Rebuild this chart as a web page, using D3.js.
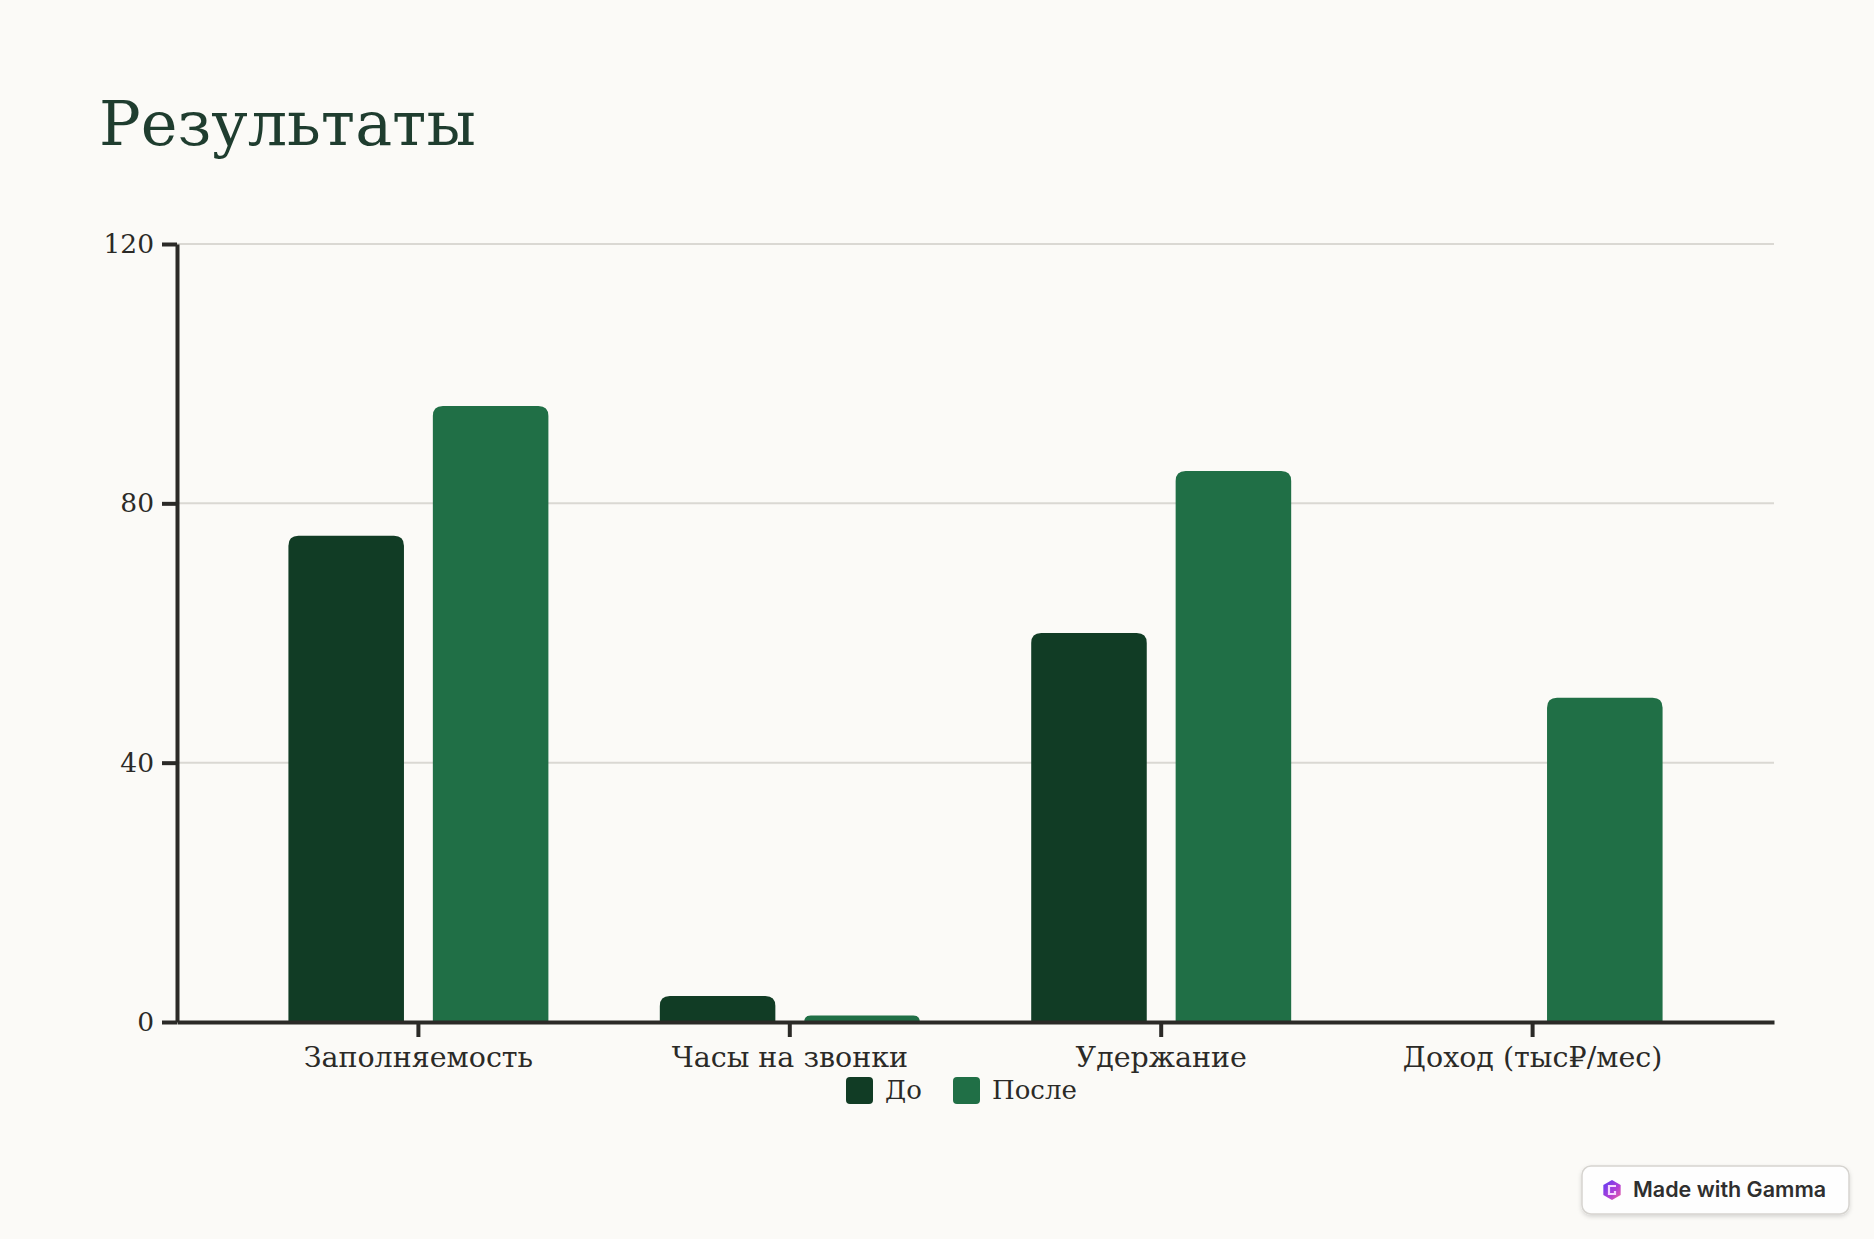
<!DOCTYPE html>
<html>
<head>
<meta charset="utf-8">
<script src="https://cdn.jsdelivr.net/npm/d3@7"></script>
<style>
  html, body { margin: 0; padding: 0; background: #fbfaf7; }
  svg { display: block; }
  .serif { font-family: "DejaVu Serif", "Liberation Serif", serif; }
  .badge { font-family: Inter, "Noto Sans", sans-serif; }
</style>
</head>
<body>
<script>
const width = 1874;
const height = 1239;

// chart data
const categories = ["Заполняемость", "Часы на звонки", "Удержание", "Доход (тыс₽/мес)"];
const seriesNames = ["До", "После"];
const beforeValues = [75, 4, 60, 0];
const afterValues = [95, 1, 85, 50];
const yTicks = [0, 40, 80, 120];

const colors = ["#113c25", "#206f46"];
const textColor = "#2b2a27";

const margin = { left: 177, right: 100, top: 244, bottom: 217 };
const plotBottom = height - margin.bottom;   // y of zero line

const svg = d3.select("body").append("svg")
    .attr("width", width)
    .attr("height", height);

svg.append("rect")
    .attr("width", width)
    .attr("height", height)
    .attr("fill", "#fbfaf7");

// title
svg.append("text")
    .attr("class", "serif")
    .attr("x", 99)
    .attr("y", 145)
    .attr("fill", "#1f3d2f")
    .style("font-size", "62px")
    .text("Результаты");

const x0 = d3.scaleBand()
    .domain(categories)
    .range([margin.left, width - margin.right])
    .paddingInner(0.3)
    .paddingOuter(0.3);

const x1 = d3.scaleBand()
    .domain(seriesNames)
    .range([0, x0.bandwidth()])
    .paddingInner(0.2);

const y = d3.scaleLinear()
    .domain([0, 120])
    .range([plotBottom, margin.top]);

// gridlines
svg.append("g")
    .selectAll("line")
    .data(yTicks.filter(d => d > 0))
    .join("line")
    .attr("x1", margin.left)
    .attr("x2", width - margin.right)
    .attr("y1", d => y(d))
    .attr("y2", d => y(d))
    .attr("stroke", "#dad8d3")
    .attr("stroke-width", 2);

// bars with rounded top corners
function topRounded(x, yTop, w, h, r) {
    r = Math.min(r, h, w / 2);
    return `M${x},${yTop + h}V${yTop + r}Q${x},${yTop} ${x + r},${yTop}` +
        `H${x + w - r}Q${x + w},${yTop} ${x + w},${yTop + r}V${yTop + h}Z`;
}

const rows = categories.map((c, i) => ({
    category: c,
    values: [
        { key: seriesNames[0], value: beforeValues[i] },
        { key: seriesNames[1], value: afterValues[i] }
    ]
}));

svg.append("g")
    .selectAll("g")
    .data(rows)
    .join("g")
    .attr("transform", d => `translate(${x0(d.category)},0)`)
    .selectAll("path")
    .data(d => d.values.filter(v => v.value > 0))
    .join("path")
    .attr("fill", d => colors[seriesNames.indexOf(d.key)])
    .attr("d", d => topRounded(x1(d.key), y(d.value), x1.bandwidth(), y(0) - y(d.value), 10));

// y axis
const yAxis = svg.append("g")
    .attr("transform", `translate(${margin.left},0)`)
    .call(d3.axisLeft(y).tickValues(yTicks).tickSize(15).tickSizeOuter(0).tickPadding(8));

// x axis
const xAxis = svg.append("g")
    .attr("transform", `translate(0,${plotBottom})`)
    .call(d3.axisBottom(x0).tickSize(15).tickSizeOuter(0).tickPadding(10));

[yAxis, xAxis].forEach(a => {
    a.select(".domain").attr("stroke", textColor).attr("stroke-width", 4);
    a.selectAll(".tick line").attr("stroke", textColor).attr("stroke-width", 4);
    a.selectAll(".tick text")
        .attr("class", "serif")
        .attr("fill", textColor);
});
yAxis.selectAll(".tick text").style("font-size", "26.5px");
xAxis.selectAll(".tick text").style("font-size", "28.5px");

// legend
const legendX = [846, 953];
const legend = svg.append("g");
seriesNames.forEach((name, i) => {
    legend.append("rect")
        .attr("x", legendX[i])
        .attr("y", 1077)
        .attr("width", 27)
        .attr("height", 27)
        .attr("rx", 4)
        .attr("fill", colors[i]);
    legend.append("text")
        .attr("class", "serif")
        .attr("x", legendX[i] + 39)
        .attr("y", 1099)
        .attr("fill", textColor)
        .style("font-size", "26px")
        .text(name);
});

// "Made with Gamma" badge
const badge = svg.append("g").attr("transform", "translate(1582,1166)");
const defs = svg.append("defs");
const shadow = defs.append("filter").attr("id", "shadow").attr("x", "-10%").attr("y", "-30%")
    .attr("width", "120%").attr("height", "170%");
shadow.append("feDropShadow").attr("dx", 0).attr("dy", 2).attr("stdDeviation", 2)
    .attr("flood-color", "#000").attr("flood-opacity", 0.15);
const grad = defs.append("linearGradient").attr("id", "gammaGrad")
    .attr("x1", 0).attr("y1", 0).attr("x2", 1).attr("y2", 1);
grad.append("stop").attr("offset", "0%").attr("stop-color", "#5b3df5");
grad.append("stop").attr("offset", "60%").attr("stop-color", "#b23fd6");
grad.append("stop").attr("offset", "100%").attr("stop-color", "#f0679a");

badge.append("rect")
    .attr("width", 267)
    .attr("height", 48)
    .attr("rx", 9)
    .attr("fill", "#fefefe")
    .attr("stroke", "#d6d4d0")
    .attr("stroke-width", 1.5)
    .attr("filter", "url(#shadow)");
// small hexagon logo
const hex = d3.range(6).map(k => {
    const a = Math.PI / 3 * k - Math.PI / 2;
    return [30 + 10 * Math.cos(a), 24 + 10 * Math.sin(a)];
});
badge.append("path")
    .attr("d", "M" + hex.join("L") + "Z")
    .attr("fill", "url(#gammaGrad)");
badge.append("path")
    .attr("d", "M34,20H27V28H33V25")
    .attr("fill", "none")
    .attr("stroke", "#f6d8ff")
    .attr("stroke-width", 2.2);
badge.append("text")
    .attr("class", "badge")
    .attr("x", 51)
    .attr("y", 31)
    .attr("fill", "#2f2f2f")
    .style("font-size", "21.5px")
    .style("font-weight", 600)
    .text("Made with Gamma");
</script>
</body>
</html>
